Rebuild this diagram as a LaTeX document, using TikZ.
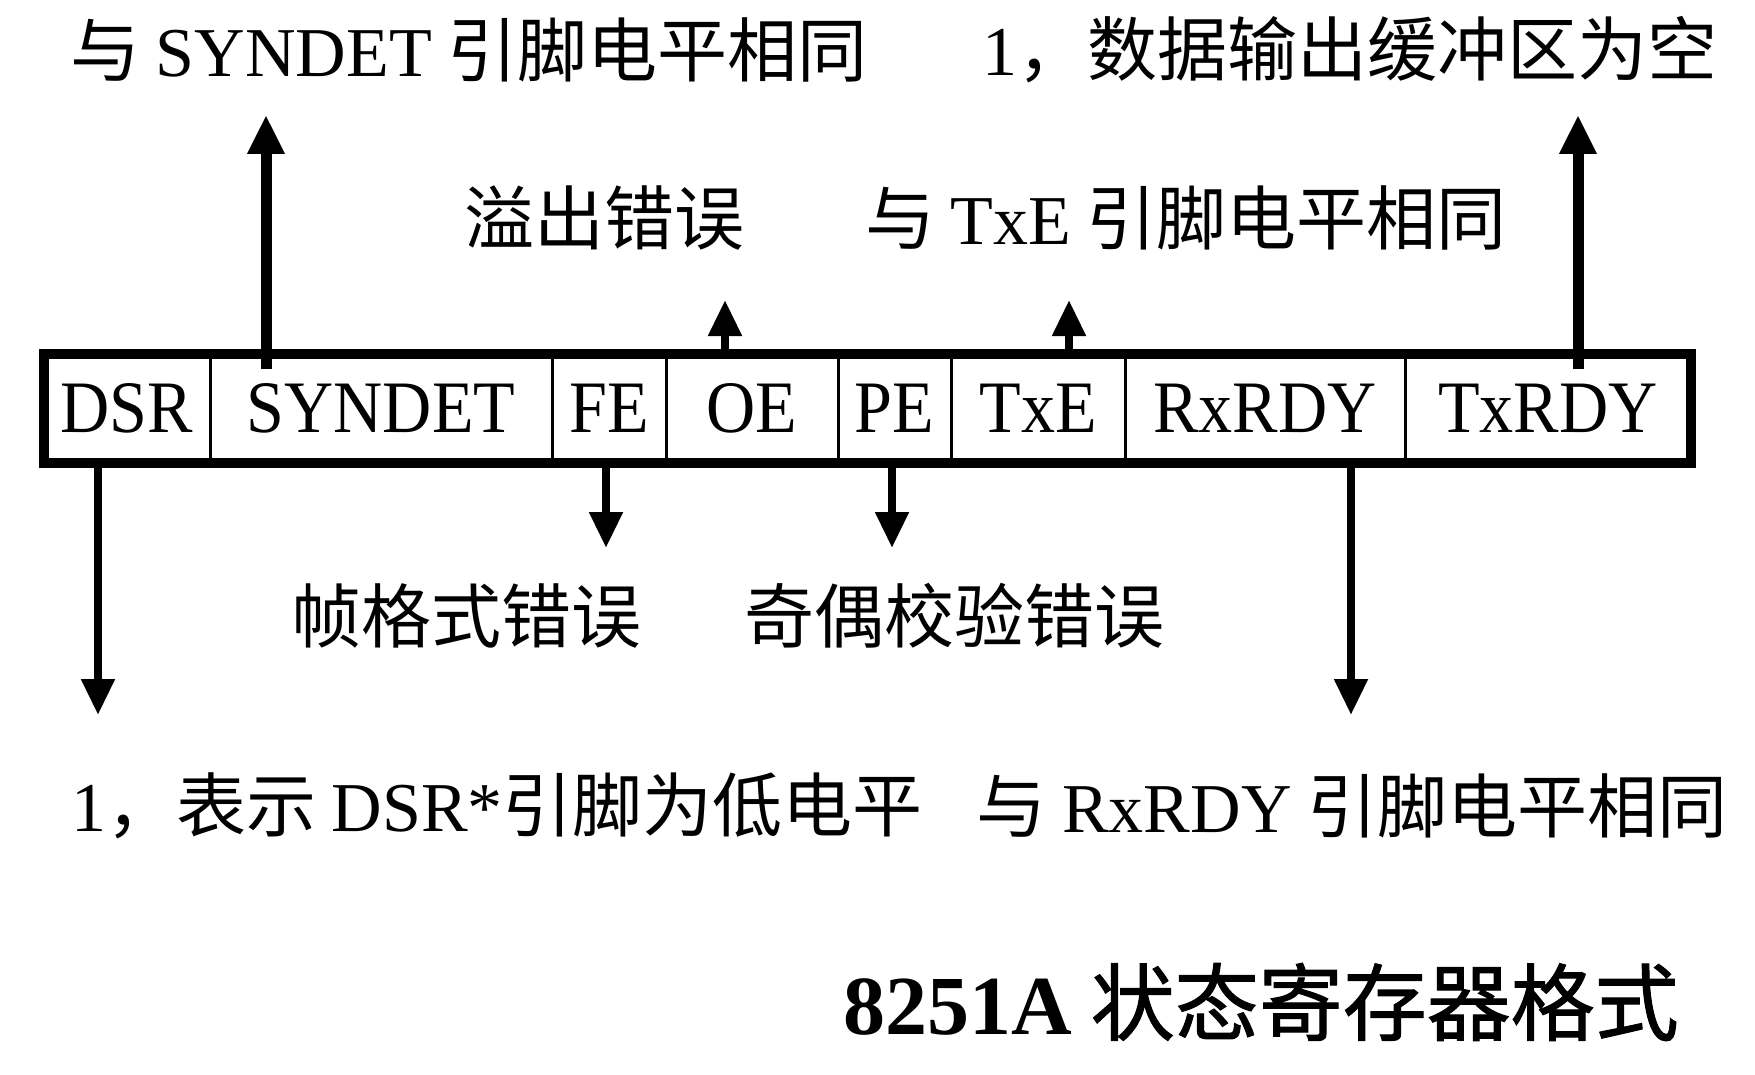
\documentclass[tikz,border=0pt]{standalone}
\usepackage{graphicx}
\usepackage{fontspec}
\setmainfont{Liberation Serif}
\newfontfamily\cjk{Noto Sans CJK SC}
\newfontfamily\cjkt{Noto Sans CJK SC}[FakeBold=1.2]
\usetikzlibrary{arrows.meta}
\tikzset{
  cell/.style={draw, line width=3pt, inner sep=0pt, outer sep=0pt, minimum height=109pt,
    font=\fontsize{74}{80}\selectfont},
  lbl/.style={inner sep=0pt, outer sep=0pt, font=\fontsize{70}{80}\selectfont\cjk},
  ttl/.style={inner sep=0pt, outer sep=0pt, font=\fontsize{84}{96}\selectfont\cjkt},
  arr/.style={line width=8pt, -{Triangle[length=36pt,width=32pt]}},
  arrlong/.style={arr, line width=11pt, -{Triangle[length=39pt,width=35pt]}},
  frame/.style={line width=10pt},
}
\newcommand{\cellt}[1]{\scalebox{0.92}[1]{#1}}
\begin{document}
\begin{tikzpicture}[x=1pt,y=-1pt]
\useasboundingbox (0,0) rectangle (1755,1075);
% register cells
\node[cell, minimum width=166pt] (dsr)    at (127,408.5)   {\cellt{DSR}};
\node[cell, minimum width=342pt] (syndet) at (381,408.5)   {\cellt{SYNDET}};
\node[cell, minimum width=114pt] (fe)     at (609,408.5)   {\cellt{FE}};
\node[cell, minimum width=172pt] (oe)     at (752,408.5)   {\cellt{OE}};
\node[cell, minimum width=113pt] (pe)     at (894.5,408.5) {\cellt{PE}};
\node[cell, minimum width=174pt] (txe)    at (1038,408.5)  {\cellt{TxE}};
\node[cell, minimum width=280pt] (rxrdy)  at (1265,408.5)  {\cellt{RxRDY}};
\node[cell, minimum width=286pt] (txrdy)  at (1548,408.5)  {\cellt{TxRDY}};
\draw[frame] (dsr.north west) rectangle (txrdy.south east);
% labels
\node[lbl] (t1) at (469,50)   {与 {\rmfamily SYNDET} 引脚电平相同};
\node[lbl] (t2) at (1350,50)  {{\rmfamily 1}，数据输出缓冲区为空};
\node[lbl] (t3) at (604,218)  {溢出错误};
\node[lbl] (t4) at (1186,218) {与 {\rmfamily TxE} 引脚电平相同};
\node[lbl] (t5) at (466,616)  {帧格式错误};
\node[lbl] (t6) at (954,616)  {奇偶校验错误};
\node[lbl] (t7) at (497,806)  {{\rmfamily 1}，表示 {\rmfamily DSR*}引脚为低电平};
\node[lbl] (t8) at (1352,806) {与 {\rmfamily RxRDY} 引脚电平相同};
\node[ttl] (title) at (1261,1002) {{\rmfamily\bfseries 8251A} 状态寄存器格式};
% arrow tips
\coordinate (tipA) at (0,115);
\coordinate (tipB) at (0,300);
\coordinate (tipC) at (0,548);
\coordinate (tipD) at (0,715);
% arrows
\coordinate (sA) at ([xshift=56pt,yshift=-15pt]syndet.north west);
\coordinate (sB) at ([xshift=59pt]oe.north west);
\coordinate (sC) at ([xshift=118pt]txe.north west);
\coordinate (sD) at ([xshift=173pt,yshift=-15pt]txrdy.north west);
\coordinate (sE) at ([xshift=54pt]dsr.south west);
\coordinate (sF) at ([xshift=54pt]fe.south west);
\coordinate (sG) at ([xshift=54pt]pe.south west);
\coordinate (sH) at ([xshift=226pt]rxrdy.south west);
\draw[arrlong] (sA) -- (sA |- tipA);
\draw[arr] (sB) -- (sB |- tipB);
\draw[arr] (sC) -- (sC |- tipB);
\draw[arrlong] (sD) -- (sD |- tipA);
\draw[arr] (sE) -- (sE |- tipD);
\draw[arr] (sF) -- (sF |- tipC);
\draw[arr] (sG) -- (sG |- tipC);
\draw[arr] (sH) -- (sH |- tipD);
\end{tikzpicture}
\end{document}
